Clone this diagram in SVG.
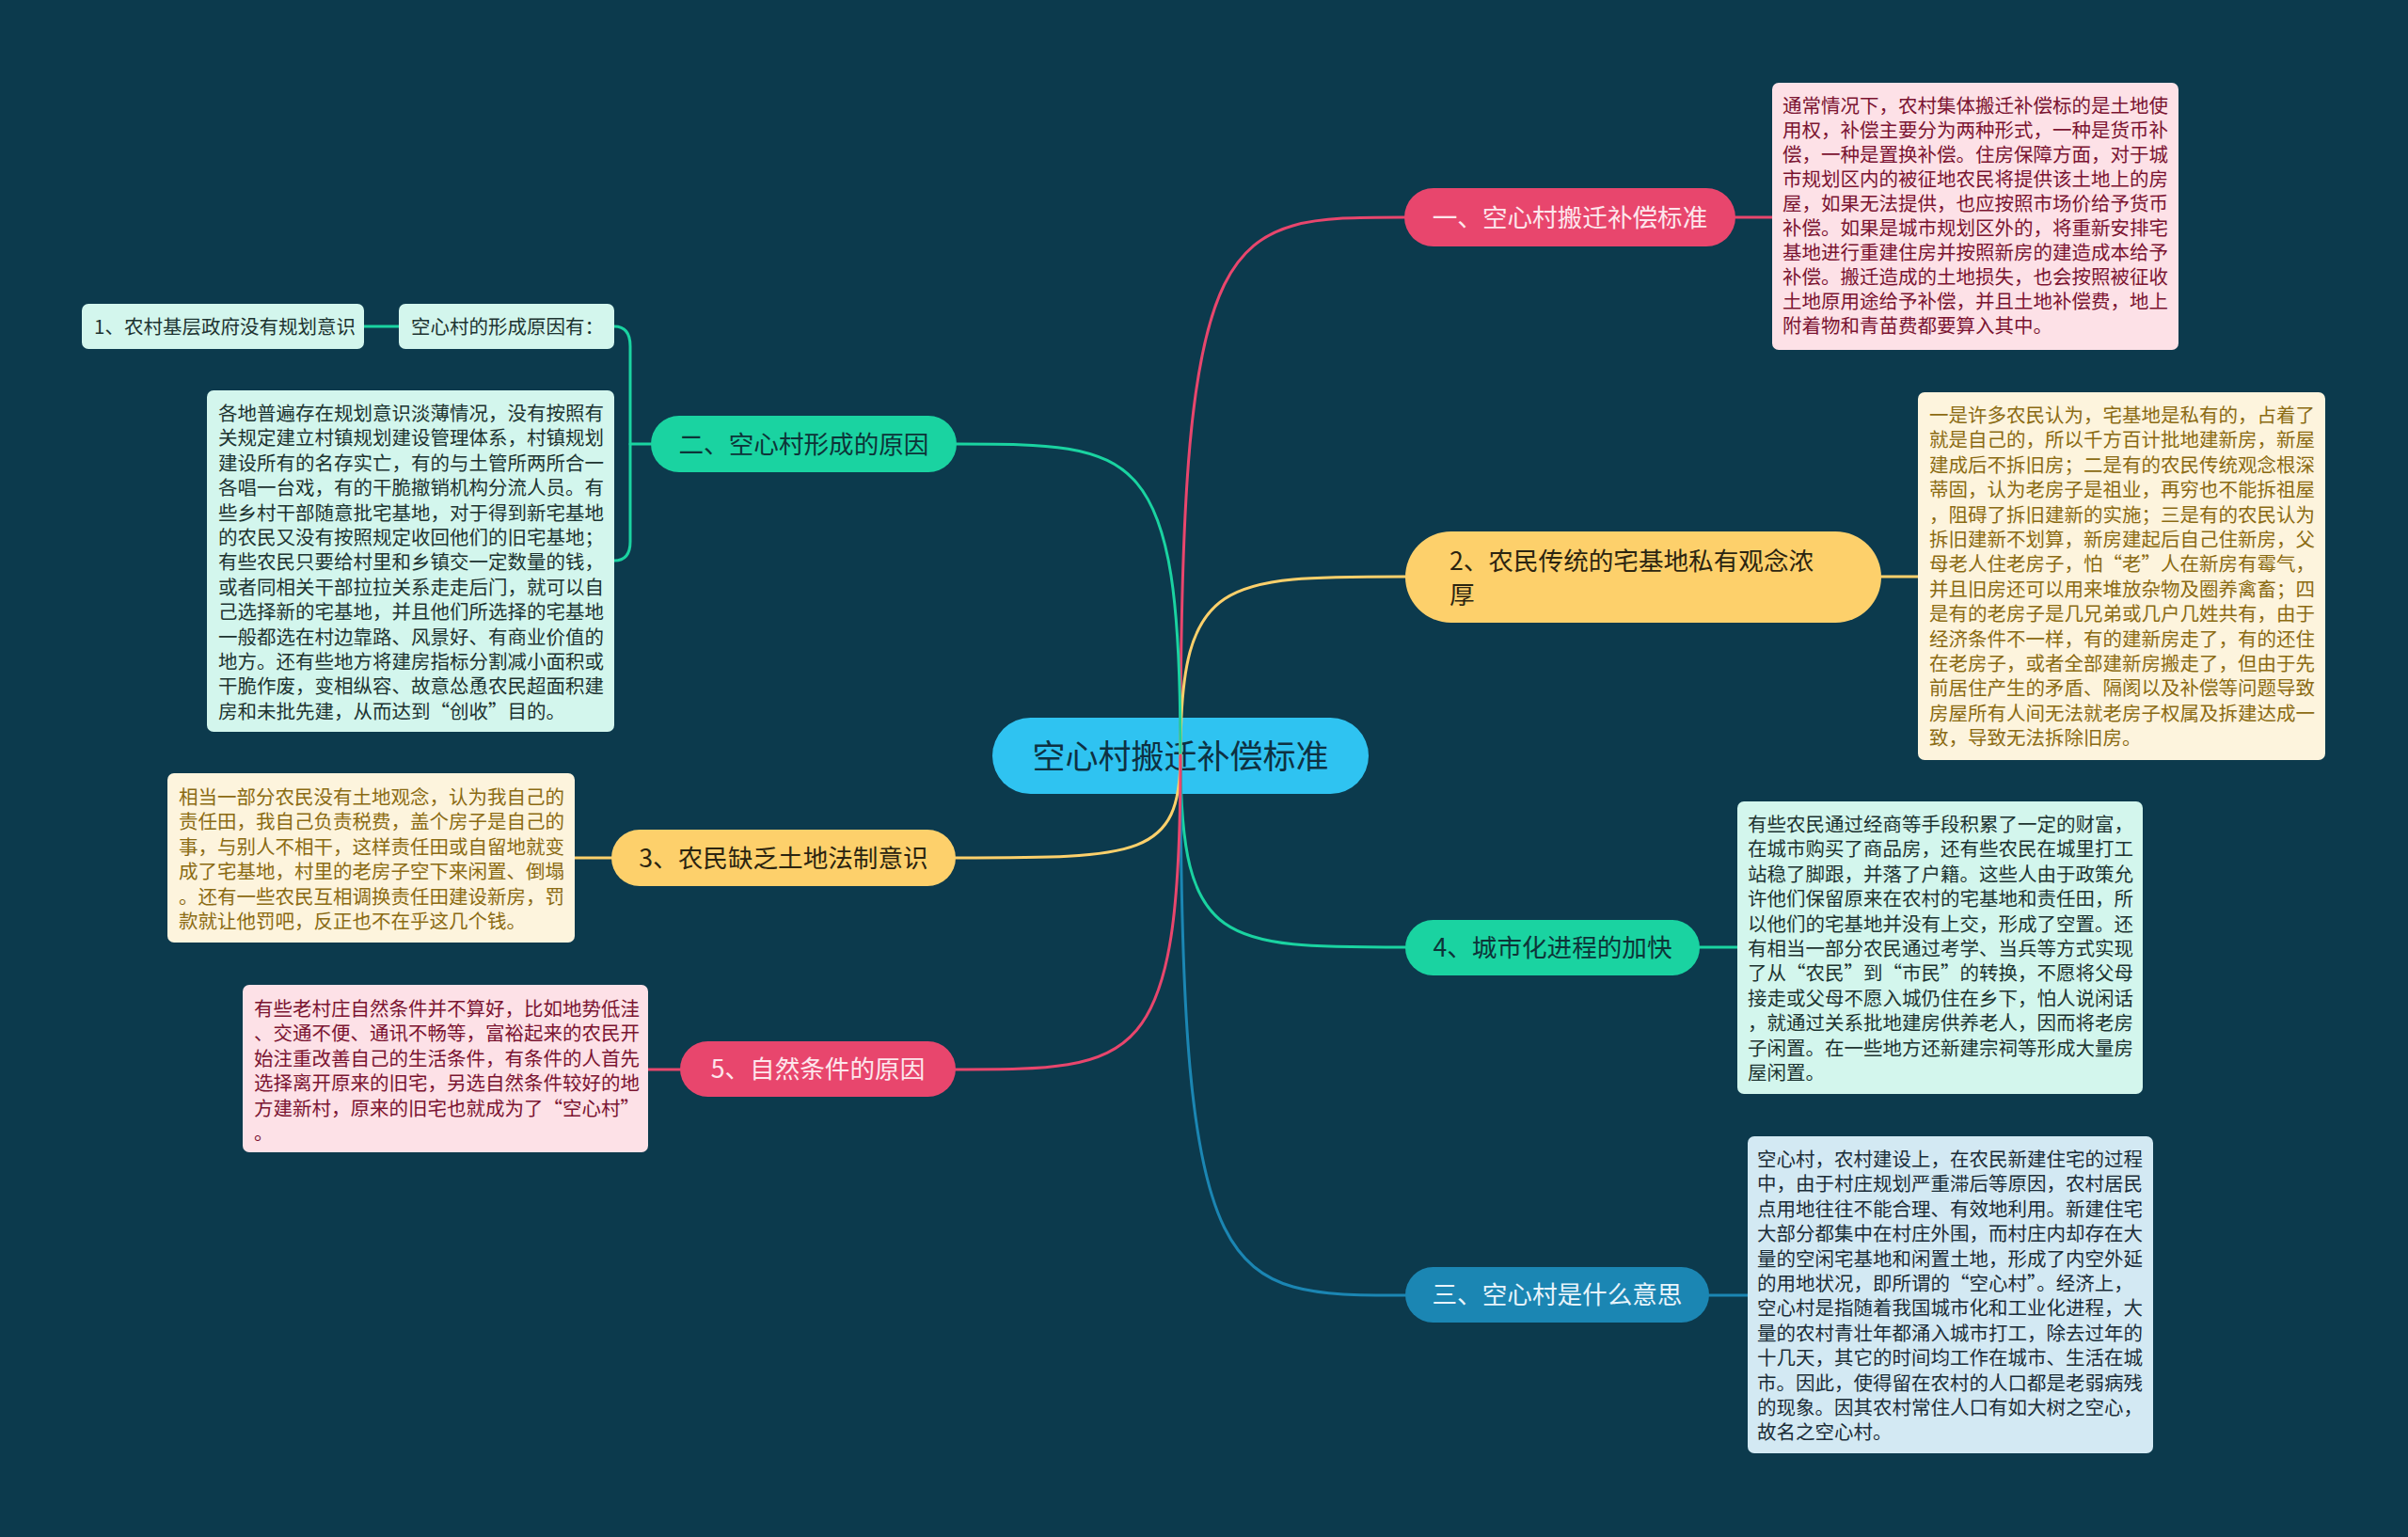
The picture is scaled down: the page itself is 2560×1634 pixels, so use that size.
<svg xmlns="http://www.w3.org/2000/svg" width="2560" height="1634" viewBox="0 0 2560 1634">
<style>
.bg{fill:#0c3a4d}
.c{fill:none;stroke-width:3;stroke-linecap:round}
.pk{stroke:#e8466d}.yl{stroke:#fdd06b}.gr{stroke:#1ad3a1}.bl{stroke:#1b86b3}
.t{font-family:"Noto Sans CJK SC","Noto Sans",sans-serif}
.box{font-size:20.5px}
.nd{font-size:26.6px}
.sm{font-size:20.5px}
</style>
<rect class="bg" x="0" y="0" width="2560" height="1634"/>

<g id="center">
<rect x="1055" y="763" width="400" height="81" rx="40.5" fill="#2fc3f1"/>
<text class="t" x="1255" y="817" font-size="35" fill="#0e3142" text-anchor="middle">空心村搬迁补偿标准</text>
</g>

<g id="connectors">
<path class="c pk" d="M1255,803 C1255,231 1300,231 1493,231"/>
<path class="c yl" d="M1255,803 C1255,613 1300,613 1494,613"/>
<path class="c gr" d="M1255,803 C1255,1007 1300,1007 1494,1007"/>
<path class="c bl" d="M1255,803 C1255,1377 1300,1377 1494,1377"/>
<path class="c gr" d="M1255,803 C1255,472 1210,472 1017,472"/>
<path class="c yl" d="M1255,803 C1255,912 1210,912 1016,912"/>
<path class="c pk" d="M1255,803 C1255,1137 1210,1137 1016,1137"/>
<path class="c pk" d="M1845,231 L1884,231"/>
<path class="c yl" d="M2000,613 L2039,613"/>
<path class="c gr" d="M1807,1007 L1847,1007"/>
<path class="c bl" d="M1817,1377 L1858,1377"/>
<path class="c yl" d="M650,912 L611,912"/>
<path class="c pk" d="M723,1137 L689,1137"/>
<path class="c gr" d="M692,472 L670,472"/>
<path class="c gr" d="M653,347 C664,347 670,354 670,368 L670,576 C670,590 664,596 653,596"/>
<path class="c gr" d="M387,347 L424,347"/>
</g>

<g id="n1">
<rect x="1493" y="200" width="352" height="62" rx="31" fill="#e8466d"/>
<text class="t nd" x="1669" y="241" fill="#fde6ec" text-anchor="middle">一、空心村搬迁补偿标准</text>
</g>
<g id="n2">
<rect x="1494" y="565" width="506" height="97" rx="48.5" fill="#fdd06b"/>
<text class="t nd" fill="#2b2410"><tspan x="1541" y="606">2、农民传统的宅基地私有观念浓</tspan><tspan x="1541" y="642">厚</tspan></text>
</g>
<g id="n4">
<rect x="1494" y="978" width="313" height="59" rx="29.5" fill="#1ad3a1"/>
<text class="t nd" x="1650.5" y="1017" fill="#0d3438" text-anchor="middle">4、城市化进程的加快</text>
</g>
<g id="n3b">
<rect x="1494" y="1347" width="323" height="59" rx="29.5" fill="#1b86b3"/>
<text class="t nd" x="1655.5" y="1386" fill="#e8f4fb" text-anchor="middle">三、空心村是什么意思</text>
</g>
<g id="n2b">
<rect x="692" y="442" width="325" height="60" rx="30" fill="#1ad3a1"/>
<text class="t nd" x="854.5" y="482" fill="#0d3438" text-anchor="middle">二、空心村形成的原因</text>
</g>
<g id="n3">
<rect x="650" y="882" width="366" height="60" rx="30" fill="#fdd06b"/>
<text class="t nd" x="833" y="922" fill="#2b2410" text-anchor="middle">3、农民缺乏土地法制意识</text>
</g>
<g id="n5">
<rect x="723" y="1107" width="293" height="59" rx="29.5" fill="#e8466d"/>
<text class="t nd" x="869.5" y="1146" fill="#fde6ec" text-anchor="middle">5、自然条件的原因</text>
</g>

<g id="s1">
<rect x="87" y="323" width="300" height="48" rx="7" fill="#d3f6ed"/>
<text class="t sm" x="100" y="355" fill="#1d3431">1、农村基层政府没有规划意识</text>
</g>
<g id="s2">
<rect x="424" y="323" width="229" height="48" rx="7" fill="#d3f6ed"/>
<text class="t sm" x="437" y="355" fill="#1d3431">空心村的形成原因有：</text>
</g>

<g id="b1">
<rect x="1884" y="88" width="432" height="284" rx="7" fill="#fde1e7"/>
<text class="t box" fill="#7b1431">
<tspan x="1895" y="120">通常情况下，农村集体搬迁补偿标的是土地使</tspan>
<tspan x="1895" y="146">用权，补偿主要分为两种形式，一种是货币补</tspan>
<tspan x="1895" y="172">偿，一种是置换补偿。住房保障方面，对于城</tspan>
<tspan x="1895" y="198">市规划区内的被征地农民将提供该土地上的房</tspan>
<tspan x="1895" y="224">屋，如果无法提供，也应按照市场价给予货币</tspan>
<tspan x="1895" y="250">补偿。如果是城市规划区外的，将重新安排宅</tspan>
<tspan x="1895" y="276">基地进行重建住房并按照新房的建造成本给予</tspan>
<tspan x="1895" y="302">补偿。搬迁造成的土地损失，也会按照被征收</tspan>
<tspan x="1895" y="328">土地原用途给予补偿，并且土地补偿费，地上</tspan>
<tspan x="1895" y="354">附着物和青苗费都要算入其中。</tspan>
</text>
</g>

<g id="b2">
<rect x="2039" y="417" width="433" height="391" rx="7" fill="#fdf4dd"/>
<text class="t box" fill="#8b6b13">
<tspan x="2051" y="449">一是许多农民认为，宅基地是私有的，占着了</tspan>
<tspan x="2051" y="475.4">就是自己的，所以千方百计批地建新房，新屋</tspan>
<tspan x="2051" y="501.8">建成后不拆旧房；二是有的农民传统观念根深</tspan>
<tspan x="2051" y="528.2">蒂固，认为老房子是祖业，再穷也不能拆祖屋</tspan>
<tspan x="2051" y="554.6">，阻碍了拆旧建新的实施；三是有的农民认为</tspan>
<tspan x="2051" y="581">拆旧建新不划算，新房建起后自己住新房，父</tspan>
<tspan x="2051" y="607.4">母老人住老房子，怕“老”人在新房有霉气，</tspan>
<tspan x="2051" y="633.8">并且旧房还可以用来堆放杂物及圈养禽畜；四</tspan>
<tspan x="2051" y="660.2">是有的老房子是几兄弟或几户几姓共有，由于</tspan>
<tspan x="2051" y="686.6">经济条件不一样，有的建新房走了，有的还住</tspan>
<tspan x="2051" y="713">在老房子，或者全部建新房搬走了，但由于先</tspan>
<tspan x="2051" y="739.4">前居住产生的矛盾、隔阂以及补偿等问题导致</tspan>
<tspan x="2051" y="765.8">房屋所有人间无法就老房子权属及拆建达成一</tspan>
<tspan x="2051" y="792.2">致，导致无法拆除旧房。</tspan>
</text>
</g>

<g id="b3">
<rect x="1847" y="852" width="431" height="311" rx="7" fill="#d3f6ed"/>
<text class="t box" fill="#1d3431">
<tspan x="1858" y="884">有些农民通过经商等手段积累了一定的财富，</tspan>
<tspan x="1858" y="910.4">在城市购买了商品房，还有些农民在城里打工</tspan>
<tspan x="1858" y="936.8">站稳了脚跟，并落了户籍。这些人由于政策允</tspan>
<tspan x="1858" y="963.2">许他们保留原来在农村的宅基地和责任田，所</tspan>
<tspan x="1858" y="989.6">以他们的宅基地并没有上交，形成了空置。还</tspan>
<tspan x="1858" y="1016">有相当一部分农民通过考学、当兵等方式实现</tspan>
<tspan x="1858" y="1042.4">了从“农民”到“市民”的转换，不愿将父母</tspan>
<tspan x="1858" y="1068.8">接走或父母不愿入城仍住在乡下，怕人说闲话</tspan>
<tspan x="1858" y="1095.2">，就通过关系批地建房供养老人，因而将老房</tspan>
<tspan x="1858" y="1121.6">子闲置。在一些地方还新建宗祠等形成大量房</tspan>
<tspan x="1858" y="1148">屋闲置。</tspan>
</text>
</g>

<g id="b4">
<rect x="1858" y="1208" width="431" height="337" rx="7" fill="#d3e9f3"/>
<text class="t box" fill="#1b2d38">
<tspan x="1868" y="1240">空心村，农村建设上，在农民新建住宅的过程</tspan>
<tspan x="1868" y="1266.4">中，由于村庄规划严重滞后等原因，农村居民</tspan>
<tspan x="1868" y="1292.8">点用地往往不能合理、有效地利用。新建住宅</tspan>
<tspan x="1868" y="1319.2">大部分都集中在村庄外围，而村庄内却存在大</tspan>
<tspan x="1868" y="1345.6">量的空闲宅基地和闲置土地，形成了内空外延</tspan>
<tspan x="1868" y="1372">的用地状况，即所谓的“空心村”。经济上，</tspan>
<tspan x="1868" y="1398.4">空心村是指随着我国城市化和工业化进程，大</tspan>
<tspan x="1868" y="1424.8">量的农村青壮年都涌入城市打工，除去过年的</tspan>
<tspan x="1868" y="1451.2">十几天，其它的时间均工作在城市、生活在城</tspan>
<tspan x="1868" y="1477.6">市。因此，使得留在农村的人口都是老弱病残</tspan>
<tspan x="1868" y="1504">的现象。因其农村常住人口有如大树之空心，</tspan>
<tspan x="1868" y="1530.4">故名之空心村。</tspan>
</text>
</g>

<g id="b5">
<rect x="220" y="415" width="433" height="363" rx="7" fill="#d3f6ed"/>
<text class="t box" fill="#1d3431">
<tspan x="232" y="447">各地普遍存在规划意识淡薄情况，没有按照有</tspan>
<tspan x="232" y="473.4">关规定建立村镇规划建设管理体系，村镇规划</tspan>
<tspan x="232" y="499.8">建设所有的名存实亡，有的与土管所两所合一</tspan>
<tspan x="232" y="526.2">各唱一台戏，有的干脆撤销机构分流人员。有</tspan>
<tspan x="232" y="552.6">些乡村干部随意批宅基地，对于得到新宅基地</tspan>
<tspan x="232" y="579">的农民又没有按照规定收回他们的旧宅基地；</tspan>
<tspan x="232" y="605.4">有些农民只要给村里和乡镇交一定数量的钱，</tspan>
<tspan x="232" y="631.8">或者同相关干部拉拉关系走走后门，就可以自</tspan>
<tspan x="232" y="658.2">己选择新的宅基地，并且他们所选择的宅基地</tspan>
<tspan x="232" y="684.6">一般都选在村边靠路、风景好、有商业价值的</tspan>
<tspan x="232" y="711">地方。还有些地方将建房指标分割减小面积或</tspan>
<tspan x="232" y="737.4">干脆作废，变相纵容、故意怂恿农民超面积建</tspan>
<tspan x="232" y="763.8">房和未批先建，从而达到“创收”目的。</tspan>
</text>
</g>

<g id="b6">
<rect x="178" y="822" width="433" height="180" rx="7" fill="#fdf4dd"/>
<text class="t box" fill="#8b6b13">
<tspan x="190" y="855">相当一部分农民没有土地观念，认为我自己的</tspan>
<tspan x="190" y="881.4">责任田，我自己负责税费，盖个房子是自己的</tspan>
<tspan x="190" y="907.8">事，与别人不相干，这样责任田或自留地就变</tspan>
<tspan x="190" y="934.2">成了宅基地，村里的老房子空下来闲置、倒塌</tspan>
<tspan x="190" y="960.6">。还有一些农民互相调换责任田建设新房，罚</tspan>
<tspan x="190" y="987">款就让他罚吧，反正也不在乎这几个钱。</tspan>
</text>
</g>

<g id="b7">
<rect x="258" y="1047" width="431" height="178" rx="7" fill="#fde1e7"/>
<text class="t box" fill="#7b1431">
<tspan x="270" y="1080">有些老村庄自然条件并不算好，比如地势低洼</tspan>
<tspan x="270" y="1106.4">、交通不便、通讯不畅等，富裕起来的农民开</tspan>
<tspan x="270" y="1132.8">始注重改善自己的生活条件，有条件的人首先</tspan>
<tspan x="270" y="1159.2">选择离开原来的旧宅，另选自然条件较好的地</tspan>
<tspan x="270" y="1185.6">方建新村，原来的旧宅也就成为了“空心村”</tspan>
<tspan x="270" y="1212">。</tspan>
</text>
</g>
</svg>
